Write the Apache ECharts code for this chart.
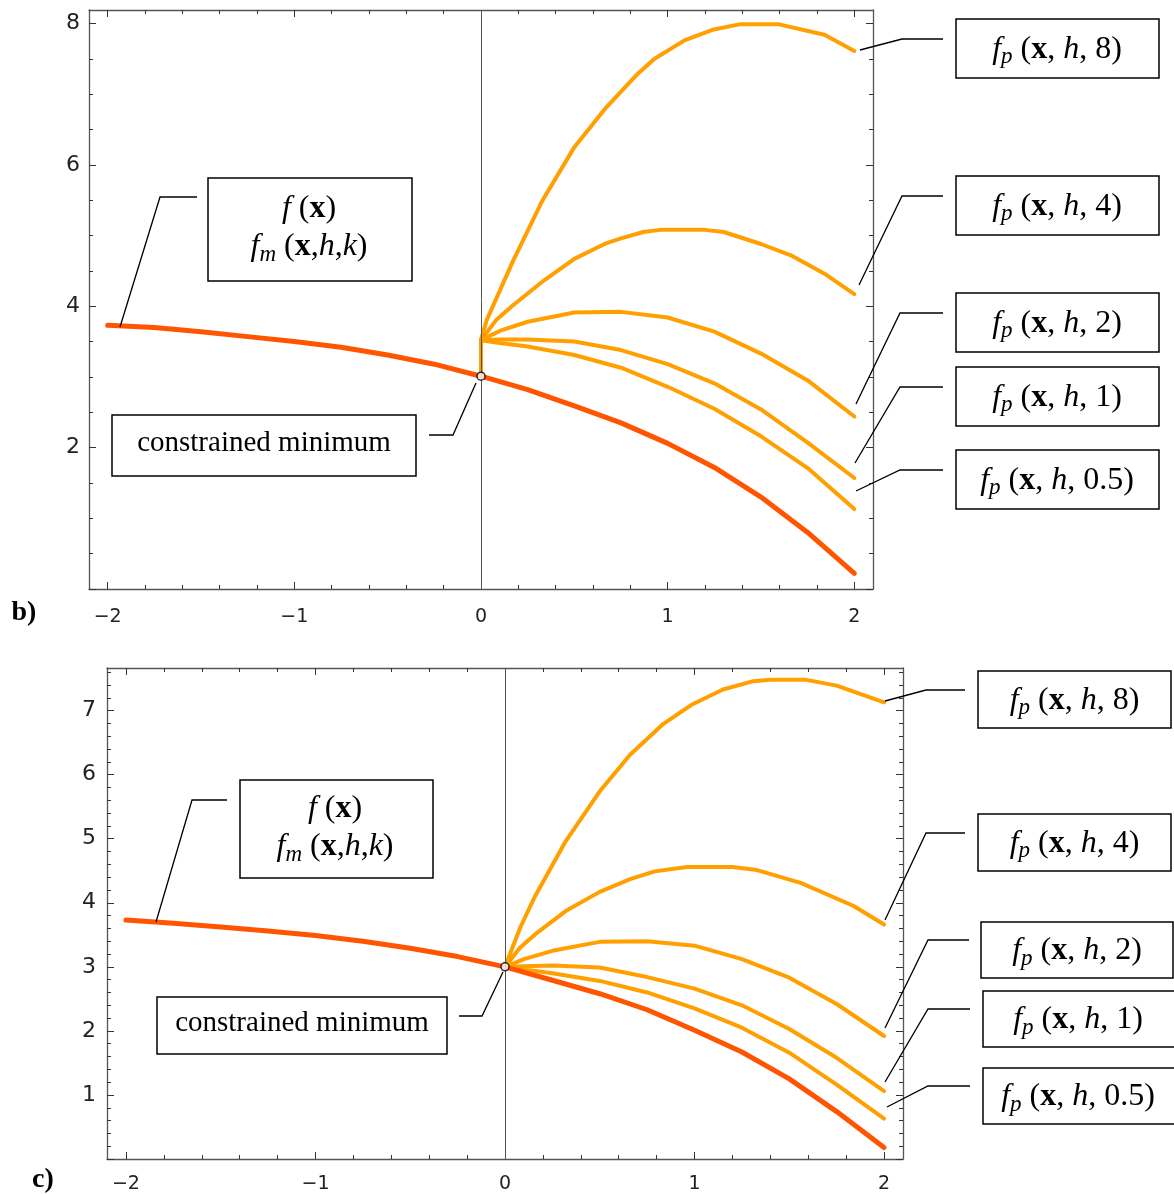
<!DOCTYPE html>
<html>
<head>
<meta charset="utf-8">
<script src="https://cdn.jsdelivr.net/npm/echarts@6/dist/echarts.min.js"></script>
<style>
html,body{margin:0;padding:0;background:#fff;}
#chart{width:1174px;height:1194px;}
</style>
</head>
<body>
<div id="chart"></div>
<script>
// ---------------- data ----------------
const redX = [-2,-1.75,-1.5,-1.25,-1,-0.75,-0.5,-0.25,0,0.25,0.5,0.75,1,1.25,1.5,1.75,2];
const redB = [3.73,3.70,3.64,3.57,3.50,3.42,3.31,3.18,3.01,2.82,2.59,2.35,2.06,1.72,1.30,0.80,0.22];
const redC = [3.73,3.68,3.62,3.56,3.49,3.40,3.29,3.16,3.00,2.79,2.58,2.33,2.01,1.67,1.25,0.74,0.18];

const fp8XB = [0,0,0.03,0.17,0.33,0.5,0.67,0.84,0.93,1.09,1.24,1.39,1.59,1.84,2];
const fp8B  = [3.01,3.52,3.80,4.63,5.50,6.25,6.81,7.29,7.50,7.76,7.91,7.99,7.99,7.84,7.61];
const fp4XB = [0,0,0.08,0.17,0.34,0.5,0.67,0.75,0.87,0.96,1.2,1.3,1.5,1.66,1.84,2];
const fp4B  = [3.01,3.52,3.80,4.01,4.37,4.67,4.89,4.96,5.05,5.08,5.08,5.05,4.88,4.72,4.46,4.17];
const fpXB = [0,0,0.1,0.25,0.5,0.75,1,1.25,1.5,1.75,2];
const fp2B  = [3.01,3.52,3.65,3.78,3.91,3.92,3.84,3.64,3.33,2.95,2.44];
const fp1B  = [3.01,3.52,3.53,3.53,3.50,3.38,3.18,2.91,2.54,2.07,1.57];
const fp05B = [3.01,3.52,3.48,3.43,3.31,3.13,2.86,2.55,2.16,1.71,1.13];

const fp8XC = [0,0.08,0.16,0.32,0.5,0.66,0.83,0.99,1.15,1.31,1.4,1.59,1.75,2];
const fp8C  = [3.00,3.61,4.11,4.96,5.74,6.31,6.78,7.10,7.33,7.46,7.48,7.48,7.39,7.13];
const fp4XC = [0,0.08,0.16,0.32,0.5,0.66,0.79,0.96,1.2,1.33,1.56,1.84,2];
const fp4C  = [3.00,3.30,3.51,3.87,4.17,4.37,4.49,4.56,4.56,4.51,4.31,3.95,3.66];
const fpXC = [0,0.1,0.25,0.5,0.75,1,1.25,1.5,1.75,2];
const fp2C  = [3.00,3.12,3.25,3.39,3.40,3.33,3.12,2.83,2.42,1.92];
const fp1C  = [3.00,3.01,3.02,2.99,2.84,2.66,2.40,2.03,1.58,1.06];
const fp05C = [3.00,2.96,2.90,2.78,2.60,2.35,2.05,1.66,1.16,0.63];

const minPointB = [0, 3.01];
const minPointC = [0, 3.00];

const xMajorTicks = [-2,-1,0,1,2];
const yMajorTicksB = [0,2,4,6,8];
const yLabelsB = [2,4,6,8];
const yMajorTicksC = [0,1,2,3,4,5,6,7];
const yLabelsC = [1,2,3,4,5,6,7];

// ---------------- helpers ----------------
function steps(a, b, s, skip) {
  const out = [];
  for (let i = Math.round(a / s); i <= Math.round(b / s); i++) {
    const v = +(i * s).toFixed(4);
    if (skip.indexOf(v) < 0) out.push(v);
  }
  return out;
}
const xMinorTicks = steps(-2.0, 2.0, 0.2, xMajorTicks);
const yMinorTicksB = steps(0, 8, 0.5, yMajorTicksB);
const yMinorTicksC = steps(0, 7.6, 0.2, yMajorTicksC);

const zip = (xs, ys) => xs.map((x, i) => [x, ys[i]]);
const fmtNum = v => (v < 0 ? '\u2212' + Math.abs(v) : String(v));

const FRAME = '#555';
const TICK = '#333';
const RED = '#ff5500';
const ORANGE = '#ffa000';

function axisSet(dim, gi, min, max, majors, minors, labels, labelMargin, fontSize) {
  const isX = dim === 'x';
  const posA = isX ? 'bottom' : 'left';
  const posB = isX ? 'top' : 'right';
  const base = (pos, showLine, ticks, len, lab) => ({
    type: 'value', gridIndex: gi, min: min, max: max, position: pos,
    axisLine: {show: showLine, onZero: false, lineStyle: {color: FRAME, width: 1.3}},
    axisTick: {show: true, inside: true, length: len, customValues: ticks, lineStyle: {color: TICK, width: 1}},
    axisLabel: lab ? {show: true, customValues: labels, formatter: fmtNum, margin: labelMargin,
                      fontSize: fontSize, color: '#222', fontFamily: 'DejaVu Sans'} : {show: false},
    splitLine: {show: false},
    minorTick: {show: false}
  });
  return [
    base(posA, true, majors, 7, true),
    base(posA, false, minors, 4, false),
    base(posB, true, majors, 7, false),
    base(posB, false, minors, 4, false)
  ];
}

const xAxes = [].concat(
  axisSet('x', 0, -2.1, 2.1, xMajorTicks, xMinorTicks, xMajorTicks, 19, 19),
  axisSet('x', 1, -2.1, 2.1, xMajorTicks, xMinorTicks, xMajorTicks, 16, 19)
);
const yAxes = [].concat(
  axisSet('y', 0, 0, 8.19, yMajorTicksB, yMinorTicksB, yLabelsB, 9, 22),
  axisSet('y', 1, 0, 7.665, yMajorTicksC, yMinorTicksC, yLabelsC, 11, 22)
);

function curve(gi, xs, ys, color, width, z) {
  return {
    type: 'line', xAxisIndex: gi * 4, yAxisIndex: gi * 4, data: zip(xs, ys),
    showSymbol: false, symbol: 'none', smooth: false, animation: false, silent: true,
    lineStyle: {color: color, width: width, cap: 'round', join: 'round'}, z: z
  };
}
function zeroLine(gi) {
  return {
    type: 'line', xAxisIndex: gi * 4, yAxisIndex: gi * 4, data: [], z: 1, animation: false,
    markLine: {silent: true, symbol: 'none', animation: false, label: {show: false},
               lineStyle: {color: FRAME, width: 1, type: 'solid'}, data: [{xAxis: 0}]}
  };
}
function minDot(gi, p) {
  return {
    type: 'scatter', xAxisIndex: gi * 4, yAxisIndex: gi * 4, data: [p], symbolSize: 8, z: 10,
    animation: false, silent: true,
    itemStyle: {color: '#fff', borderColor: '#000', borderWidth: 1.5}
  };
}

const series = [
  zeroLine(0),
  curve(0, fp8XB, fp8B, ORANGE, 4, 3),
  curve(0, fp4XB, fp4B, ORANGE, 4, 3),
  curve(0, fpXB, fp2B, ORANGE, 4, 3),
  curve(0, fpXB, fp1B, ORANGE, 4, 3),
  curve(0, fpXB, fp05B, ORANGE, 4, 3),
  curve(0, redX, redB, RED, 5, 4),
  minDot(0, minPointB),
  zeroLine(1),
  curve(1, fp8XC, fp8C, ORANGE, 4, 3),
  curve(1, fp4XC, fp4C, ORANGE, 4, 3),
  curve(1, fpXC, fp2C, ORANGE, 4, 3),
  curve(1, fpXC, fp1C, ORANGE, 4, 3),
  curve(1, fpXC, fp05C, ORANGE, 4, 3),
  curve(1, redX, redC, RED, 5, 4),
  minDot(1, minPointC)
];

// ---------------- annotations ----------------
const SERIF = 'Liberation Serif';
const FS = 32;
const RICH = {
  it:  {fontFamily: SERIF, fontStyle: 'italic', fontSize: FS, fill: '#000'},
  n:   {fontFamily: SERIF, fontSize: FS, fill: '#000'},
  b:   {fontFamily: SERIF, fontWeight: 'bold', fontSize: FS, fill: '#000'},
  sub: {fontFamily: SERIF, fontStyle: 'italic', fontSize: 23, fill: '#000', padding: [15, 0, 0, 0]}
};
const fpText = k => '{it|f}{sub|p}{n| (}{b|x}{n|, }{it|h}{n|, ' + k + ')}';
const fText = '{it|f}{n| (}{b|x}{n|)}';
const fmText = '{it|f}{sub|m}{n| (}{b|x}{n|,}{it|h}{n|,}{it|k}{n|)}';

const graphics = [];
function box(x1, y1, x2, y2) {
  graphics.push({type: 'rect', z: 50, shape: {x: x1, y: y1, width: x2 - x1, height: y2 - y1},
    style: {fill: '#fff', stroke: '#000', lineWidth: 1.5}});
}
function leader(pts) {
  graphics.push({type: 'polyline', z: 50, shape: {points: pts},
    style: {fill: null, stroke: '#000', lineWidth: 1.3}});
}
function rtext(x, y, t) {
  graphics.push({type: 'text', z: 60, x: x, y: y,
    style: {text: t, rich: RICH, align: 'center', verticalAlign: 'middle',
            fontFamily: SERIF, fontSize: FS, fill: '#000'}});
}
function ptext(x, y, t, size, bold) {
  graphics.push({type: 'text', z: 60, x: x, y: y,
    style: {text: t, align: 'center', verticalAlign: 'middle', fontFamily: SERIF,
            fontSize: size, fontWeight: bold ? 'bold' : 'normal', fill: '#000'}});
}

// panel b
box(208, 178, 412, 281); rtext(309, 209, fText); rtext(309, 247, fmText);
leader([[120, 327], [160, 197], [197, 197]]);
box(112, 415, 416, 476); ptext(264, 443, 'constrained minimum', 29, false);
leader([[429, 435], [453, 435], [476, 383]]);
const rightB = [['8', 19, 78, [[860, 50], [902, 39], [943, 39]]],
                ['4', 176, 235, [[859, 285], [902, 196], [943, 196]]],
                ['2', 293, 352, [[856, 404], [900, 313], [943, 313]]],
                ['1', 367, 426, [[855, 463], [900, 387], [943, 387]]],
                ['0.5', 450, 509, [[856, 491], [900, 470], [943, 470]]]];
rightB.forEach(r => { box(956, r[1], 1159, r[2]); rtext(1057, (r[1] + r[2]) / 2 + 1, fpText(r[0])); leader(r[3]); });
ptext(24, 613, 'b)', 28, true);

// panel c
box(240, 780, 433, 878); rtext(335, 809, fText); rtext(335, 847, fmText);
leader([[156, 922], [192, 800], [227, 800]]);
box(157, 997, 447, 1054); ptext(302, 1023, 'constrained minimum', 29, false);
leader([[459, 1016], [482, 1016], [503, 972]]);
const rightC = [['8', 978, 1171, 671, 728, [[885, 701], [926, 690], [965, 690]]],
                ['4', 978, 1171, 814, 871, [[885, 920], [926, 833], [965, 833]]],
                ['2', 981, 1173, 922, 978, [[885, 1028], [928, 940], [969, 940]]],
                ['1', 983, 1176, 991, 1047, [[885, 1082], [928, 1009], [970, 1009]]],
                ['0.5', 983, 1176, 1068, 1124, [[887, 1107], [928, 1086], [970, 1086]]]];
rightC.forEach(r => { box(r[1], r[3], r[2], r[4]); rtext((r[1] + Math.min(r[2], 1173)) / 2, (r[3] + r[4]) / 2 + 1, fpText(r[0])); leader(r[5]); });
ptext(43, 1180, 'c)', 28, true);

// ---------------- chart ----------------
const chart = echarts.init(document.getElementById('chart'), null, {renderer: 'canvas'});
chart.setOption({
  backgroundColor: '#fff',
  animation: false,
  grid: [
    {left: 89, top: 10, width: 784, height: 579, containLabel: false},
    {left: 107, top: 668, width: 796, height: 492, containLabel: false}
  ],
  xAxis: xAxes,
  yAxis: yAxes,
  series: series,
  graphic: {elements: graphics}
});
</script>
</body>
</html>
